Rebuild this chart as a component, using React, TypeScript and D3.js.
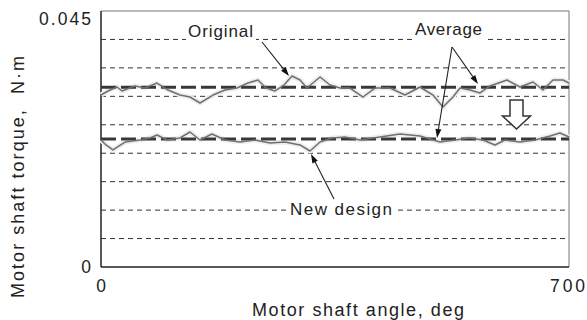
import React from "react";
import * as d3 from "d3";

const W = 587;
const H = 320;

const xDomain = [0, 700];
const yDomain = [0, 0.045];
const gridValues = [0.005, 0.01, 0.015, 0.02, 0.025, 0.03, 0.035, 0.04];
const xTickLabels = ["0", "700"];
const yTickLabels = ["0", "0.045"];

const originalAngle = [0, 10.5, 23.9, 31.4, 50.9, 65.8, 83.8, 100.2, 118.2, 133.1, 148.1, 167.5, 185.5, 203.4, 219.9, 234.8, 246.8, 260.3, 273.7, 285.7, 297.7, 308.1, 327.6, 342.5, 357.5, 372.4, 391.9, 409.8, 432.3, 454.7, 477.1, 496.6, 511.5, 526.5, 537.0, 551.9, 566.9, 581.9, 607.3, 626.7, 646.2, 661.1, 676.1, 691.0, 700];
const originalTorque = [0.03023, 0.03094, 0.03164, 0.03094, 0.03182, 0.03146, 0.03234, 0.03111, 0.03023, 0.02988, 0.02883, 0.03023, 0.03111, 0.03146, 0.03234, 0.03287, 0.03146, 0.03094, 0.03199, 0.03357, 0.03287, 0.03146, 0.0334, 0.03199, 0.03146, 0.03146, 0.02988, 0.03146, 0.03146, 0.03023, 0.03164, 0.03023, 0.02813, 0.02988, 0.03146, 0.03111, 0.03059, 0.03182, 0.03287, 0.03164, 0.03252, 0.03111, 0.03287, 0.03287, 0.03234];

const newAngle = [0, 7.5, 17.9, 35.9, 58.3, 73.3, 83.8, 98.7, 118.2, 133.1, 148.1, 166.0, 185.5, 207.9, 230.3, 252.8, 275.2, 297.7, 312.6, 327.6, 345.5, 365.0, 387.4, 417.3, 447.2, 477.1, 507.0, 529.5, 551.9, 571.4, 589.3, 604.3, 626.7, 649.1, 671.6, 686.5, 700];
const newTorque = [0.02232, 0.02145, 0.02057, 0.02197, 0.02232, 0.02268, 0.0232, 0.02232, 0.02268, 0.02373, 0.02232, 0.02338, 0.02232, 0.02197, 0.02232, 0.0218, 0.02197, 0.02145, 0.02039, 0.02197, 0.02268, 0.02285, 0.02232, 0.02285, 0.02338, 0.02303, 0.02197, 0.02232, 0.02268, 0.02232, 0.02145, 0.02232, 0.02197, 0.02232, 0.02303, 0.02355, 0.02285];

const averageValues = [0.0316, 0.0225];

const FONT = "'Liberation Sans', Arial, sans-serif";
const INK = "#222";

function Arrow({ x1, y1, x2, y2 }: { x1: number; y1: number; x2: number; y2: number }) {
  const ang = Math.atan2(y2 - y1, x2 - x1);
  const len = 9;
  const half = 3;
  const bx = x2 - len * Math.cos(ang);
  const by = y2 - len * Math.sin(ang);
  const px = -Math.sin(ang) * half;
  const py = Math.cos(ang) * half;
  return (
    <g>
      <line x1={x1} y1={y1} x2={bx} y2={by} stroke="#222" strokeWidth={1.1} />
      <polygon points={`${x2},${y2} ${bx + px},${by + py} ${bx - px},${by - py}`} fill="#111" />
    </g>
  );
}

export default function App() {
  const x = d3.scaleLinear().domain(xDomain).range([101, 569]);
  const y = d3.scaleLinear().domain(yDomain).range([267, 11]);

  const line = d3
    .line<[number, number]>()
    .x((d) => x(d[0]))
    .y((d) => y(d[1]));

  const origPts = originalAngle.map((a, i) => [a, originalTorque[i]] as [number, number]);
  const newPts = newAngle.map((a, i) => [a, newTorque[i]] as [number, number]);

  const x0 = x(xDomain[0]);
  const x1 = x(xDomain[1]);
  const yb = y(yDomain[0]);
  const yt = y(yDomain[1]);

  const ax = 516.5;
  const shaftTop = 100;
  const shaftBot = 116;
  const headBot = 129;

  return (
    <svg width={W} height={H} style={{ position: "absolute", left: 0, top: 0 }} fontFamily={FONT}>
      <rect x={0} y={0} width={W} height={H} fill="#fff" />
      {gridValues.map((v) => (
        <line key={v} x1={x0} x2={x1} y1={y(v)} y2={y(v)} stroke="#333" strokeWidth={1} strokeDasharray="5,4" />
      ))}
      <line x1={x0} x2={x1} y1={yt} y2={yt} stroke="#777" strokeWidth={1} />
      <line x1={x1} x2={x1} y1={yt} y2={yb} stroke="#777" strokeWidth={1} />
      <line x1={x0} x2={x0} y1={yt} y2={yb} stroke="#222" strokeWidth={1.5} />
      <line x1={x0} x2={x1} y1={yb} y2={yb} stroke="#222" strokeWidth={1.5} />

      <path d={line(origPts) || ""} fill="none" stroke="#eeeeee" strokeWidth={5} strokeLinejoin="round" />
      <path d={line(newPts) || ""} fill="none" stroke="#eeeeee" strokeWidth={5} strokeLinejoin="round" />
      {averageValues.map((v) => (
        <line key={v} x1={x0} x2={x1} y1={y(v)} y2={y(v)} stroke="#383838" strokeWidth={3} strokeDasharray="15,5" />
      ))}
      <path d={line(origPts) || ""} fill="none" stroke="#707070" strokeWidth={1.5} strokeLinejoin="round" />
      <path d={line(newPts) || ""} fill="none" stroke="#707070" strokeWidth={1.5} strokeLinejoin="round" />

      <rect x={186} y={24} width={70} height={18} fill="#fff" />
      <text x={188} y={37} fontSize={17} fill={INK} textLength={65} lengthAdjust="spacing">Original</text>
      <rect x={412} y={23} width={73} height={18} fill="#fff" />
      <text x={415} y={35} fontSize={17} fill={INK} textLength={67} lengthAdjust="spacing">Average</text>
      <rect x={288} y={202} width={106} height={18} fill="#fff" />
      <text x={290} y={215} fontSize={17} fill={INK} textLength={102} lengthAdjust="spacing">New design</text>

      <Arrow x1={262} y1={42} x2={289} y2={76} />
      <Arrow x1={452} y1={47} x2={437} y2={138} />
      <Arrow x1={452} y1={47} x2={478} y2={84} />
      <Arrow x1={334} y1={199} x2={311} y2={154} />

      <path
        d={`M${ax - 6.5},${shaftTop} L${ax + 6.5},${shaftTop} L${ax + 6.5},${shaftBot} L${ax + 14},${shaftBot} L${ax},${headBot} L${ax - 14},${shaftBot} L${ax - 6.5},${shaftBot} Z`}
        fill="#fff"
        stroke="#333"
        strokeWidth={1.5}
      />

      <text x={39} y={25} fontSize={17.5} fill={INK} textLength={52} lengthAdjust="spacing">{yTickLabels[1]}</text>
      <text x={91} y={273} fontSize={17.5} textAnchor="end" fill={INK}>{yTickLabels[0]}</text>
      <text x={x(0)} y={292} fontSize={17.5} textAnchor="middle" fill={INK}>{xTickLabels[0]}</text>
      <text x={550} y={292} fontSize={17.5} fill={INK} textLength={35} lengthAdjust="spacing">{xTickLabels[1]}</text>

      <text x={252} y={316} fontSize={18} fill={INK} textLength={212} lengthAdjust="spacing">Motor shaft angle, deg</text>
      <text
        transform="translate(24,298) rotate(-90)"
        fontSize={18}
        fill={INK}
        textLength={242}
        lengthAdjust="spacing"
        style={{ whiteSpace: "pre" }}
      >
        {"Motor shaft torque,  N·m"}
      </text>
    </svg>
  );
}
